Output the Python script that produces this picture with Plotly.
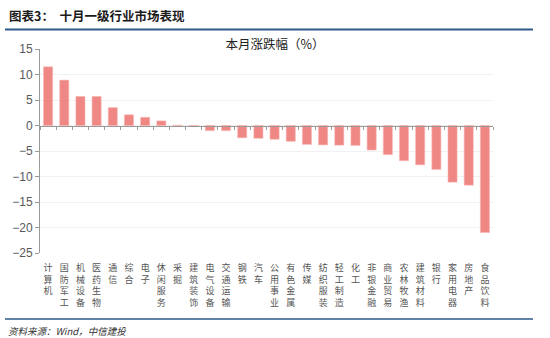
import plotly.graph_objects as go

categories = ["计算机", "国防军工", "机械设备", "医药生物", "通信", "综合", "电子", "休闲服务",
              "采掘", "建筑装饰", "电气设备", "交通运输", "钢铁", "汽车", "公用事业", "有色金属",
              "传媒", "纺织服装", "轻工制造", "化工", "非银金融", "商业贸易", "农林牧渔", "建筑材料",
              "银行", "家用电器", "房地产", "食品饮料"]
changes = [11.5, 8.9, 5.7, 5.7, 3.5, 2.1, 1.6, 0.9,
           0.05, -0.2, -1.0, -1.0, -2.4, -2.5, -2.7, -3.1,
           -3.7, -3.8, -3.85, -3.9, -4.8, -5.7, -6.9, -7.7,
           -8.6, -11.1, -11.7, -21.0]
y_range = [-25, 15]
y_tick_step = 5

W, H = 550, 338
ML, MR, MT, MB = 40, 57, 49, 85
PW, PH = W - ML - MR, H - MT - MB


def px(x):
    return (x - ML) / PW


def py(y):
    return 1 - (y - MT) / PH


CJK = "Noto Sans CJK SC"
BLUE = "#2E5A88"
AXIS = "#9a9a9a"

x_range = [-0.5, len(categories) - 0.5]

fig = go.Figure()
fig.add_trace(go.Bar(
    x=categories, y=changes,
    marker=dict(color="#EF8784", line=dict(color="#F6B3B0", width=0.6)),
    hoverinfo="x+y",
))
# invisible trace on the zero-line axis
fig.add_trace(go.Scatter(
    x=categories, y=changes, xaxis="x2", yaxis="y",
    mode="markers", marker=dict(opacity=0), hoverinfo="skip", showlegend=False,
))

zero_pos = (0 - y_range[0]) / (y_range[1] - y_range[0])

fig.update_layout(
    width=W, height=H,
    margin=dict(l=ML, r=MR, t=MT, b=MB),
    paper_bgcolor="white", plot_bgcolor="white",
    showlegend=False,
    bargap=0.44,
    font=dict(family=CJK, color="#333333"),
    title=dict(text="本月涨跌幅（%）", x=0.5, xref="container", xanchor="center",
               y=1 - 45 / H, yref="container", yanchor="middle",
               font=dict(family=CJK, size=12.5, color="#222222")),
    xaxis=dict(
        type="category", range=x_range, autorange=False,
        tickmode="array", tickvals=categories,
        ticktext=["<br>".join(list(c)) for c in categories],
        tickfont=dict(family=CJK, size=9, color="#555555"),
        showline=False, ticks="", showgrid=False, zeroline=False,
        ticklabelstandoff=8,
    ),
    xaxis2=dict(
        type="category", overlaying="x", range=x_range, autorange=False,
        anchor="free", position=zero_pos,
        showticklabels=False, showline=True, linecolor=AXIS, linewidth=1,
        ticks="outside", tickson="boundaries", ticklen=3, tickcolor=AXIS,
        showgrid=False, zeroline=False,
    ),
    yaxis=dict(
        range=y_range, dtick=y_tick_step, tick0=0,
        showline=True, linecolor=AXIS, linewidth=1,
        ticks="outside", ticklen=4, tickcolor=AXIS,
        showgrid=True, gridcolor="#f1f1f1", gridwidth=1,
        zeroline=False,
        tickfont=dict(family="Liberation Sans", size=12, color="#595959"),
    ),
    shapes=[
        dict(type="line", xref="paper", yref="paper", x0=px(5), x1=px(533), y0=py(29.5), y1=py(29.5),
             line=dict(color=BLUE, width=2)),
        dict(type="line", xref="paper", yref="paper", x0=px(5), x1=px(533), y0=py(319), y1=py(319),
             line=dict(color=BLUE, width=1.5)),
    ],
    annotations=[
        dict(text="<b>图表3：  十月一级行业市场表现</b>", xref="paper", yref="paper",
             x=px(7), y=py(15.5), xanchor="left", yanchor="middle", showarrow=False,
             font=dict(family=CJK, size=12.5, color="#1a1a1a")),
        dict(text="<i>资料来源：Wind，中信建投</i>", xref="paper", yref="paper",
             x=px(6), y=py(331), xanchor="left", yanchor="middle", showarrow=False,
             font=dict(family=CJK, size=9.5, color="#333333")),
    ],
)

fig.write_html("out.html")
